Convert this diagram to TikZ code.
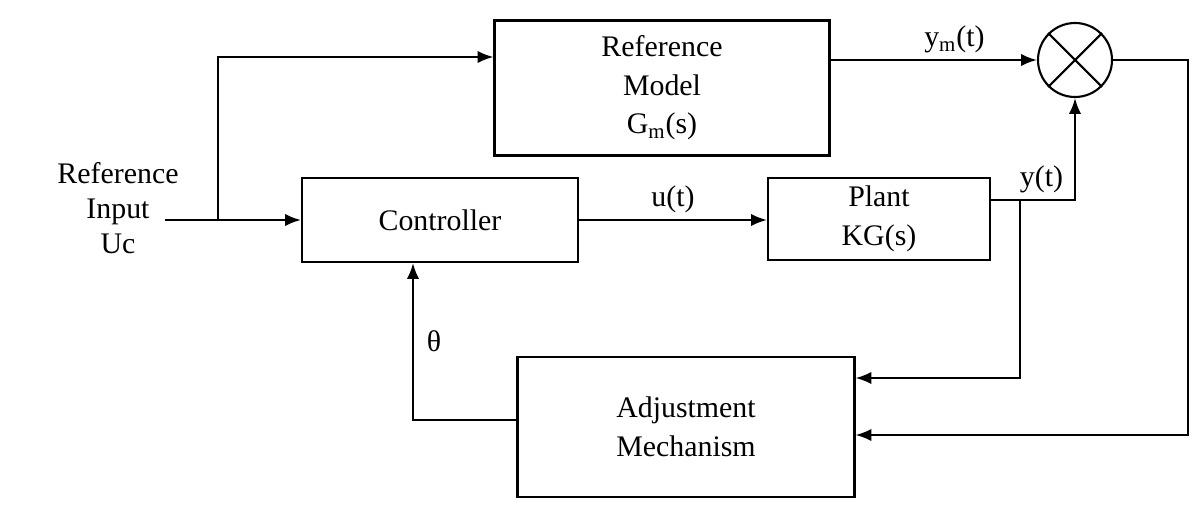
\documentclass[tikz,border=0pt]{standalone}
\usepackage{fontspec}
\setmainfont{Liberation Serif}
\usetikzlibrary{arrows.meta}
\begin{document}
\begin{tikzpicture}[x=0.02cm,y=-0.02cm,
  blk/.style={draw,line width=1.2pt,inner sep=0pt,align=center,font=\fontsize{17}{22}\selectfont},
  ln/.style={line width=1.2pt},
  arr/.style={ln,-{Latex[length=9pt,width=7pt]}},
  lbl/.style={font=\fontsize{17}{20}\selectfont}]
\useasboundingbox (0,0) rectangle (1193,513);
\node[blk,minimum width=335*0.02cm,minimum height=135*0.02cm] (rm) at (662,88) {Reference\\Model\\G$_{\mathrm{m}}$(s)};
\node[blk,minimum width=276*0.02cm,minimum height=84*0.02cm] (ctl) at (440,220) {Controller};
\node[blk,minimum width=222*0.02cm,minimum height=82*0.02cm] (pl) at (879,219) {Plant\\KG(s)};
\node[blk,minimum width=337*0.02cm,minimum height=140*0.02cm] (adj) at (686,427) {Adjustment\\Mechanism};
\node[draw,line width=1.2pt,circle,minimum size=74*0.02cm,inner sep=0pt] (sum) at (1075,60) {};
\draw[line width=1.2pt] (sum.north west)--(sum.south east) (sum.north east)--(sum.south west);
\node[lbl,align=center] (in) at (118,208) {Reference\\Input\\Uc};
\coordinate (b1) at (218,220);
\draw[arr] (165,220) -- (ctl.west);
\draw[arr] (b1) |- (rm.west |- 0,57);
\draw[arr] (rm.east |- sum.west) -- node[lbl,above,pos=0.6]{y$_{\mathrm{m}}$(t)} (sum.west);
\draw[arr] (ctl.east) -- node[lbl,above]{u(t)} (pl.west |- ctl.east);
\coordinate (yb) at (1020,200);
\draw[arr] (pl.east |- 0,200) -| node[lbl,above,pos=0.3]{y(t)} (sum.south);
\draw[arr] (yb) |- (adj.east |- 0,378);
\draw[arr] (sum.east) -- (1188,60) |- (adj.east |- 0,435);
\draw[arr] (adj.west |- 0,420) -| node[lbl,right,pos=0.75,xshift=4pt]{θ} (ctl.south -| 413,0);
\end{tikzpicture}
\end{document}
